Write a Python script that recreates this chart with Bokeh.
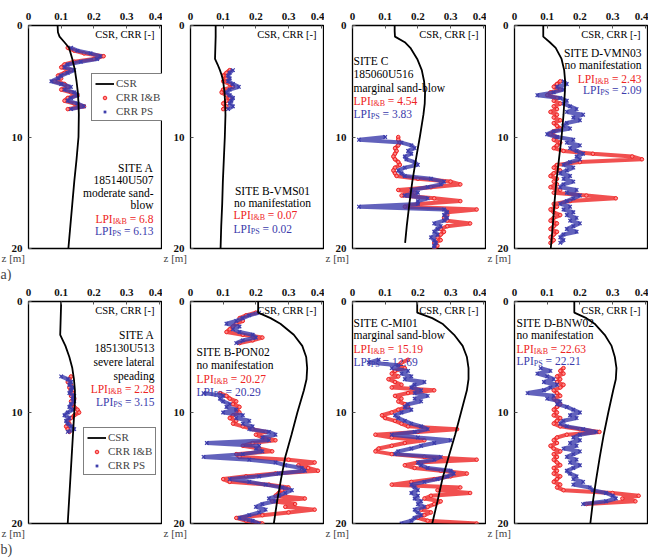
import numpy as np
from bokeh.plotting import figure
from bokeh.models import (Range1d, FixedTicker, CustomJSTickFormatter, Label,
                          Legend, LegendItem, Title)
from bokeh.layouts import column, row
from bokeh.embed import file_html
from bokeh.resources import INLINE

# ---------------- data ----------------
STEP = 0.25  # depth spacing of the CRR readings [m]

# row a)
a1_csr_z = [0, 0.6, 1.0, 1.5, 2, 3, 4, 5, 6, 7, 8, 10, 12, 14, 16, 18, 20]
a1_csr = [0.089, 0.09, 0.095, 0.11, 0.124, 0.134, 0.142, 0.147, 0.151, 0.153, 0.154, 0.153, 0.147, 0.140, 0.134, 0.128, 0.122]
a1_z0 = 2.0
a1_ib = [0.12, 0.14, 0.17, 0.23, 0.20, 0.14, 0.11, 0.10, 0.13, 0.11, 0.09, 0.10, 0.08, 0.11, 0.12, 0.10, 0.13, 0.15, 0.12, 0.11, 0.14, 0.17, 0.12]
a1_ps = [0.13, 0.15, 0.19, 0.22, 0.21, 0.16, 0.12, 0.11, 0.14, 0.12, 0.10, 0.09, 0.07, 0.10, 0.13, 0.11, 0.14, 0.15, 0.13, 0.12, 0.15, 0.17, 0.13]

b1_csr_z = [0, 1, 2, 3, 3.5, 4, 4.5, 5, 6, 7, 8, 10, 12, 14, 16, 18, 20]
b1_csr = [0.077, 0.077, 0.076, 0.075, 0.083, 0.09, 0.096, 0.1, 0.104, 0.106, 0.107, 0.105, 0.102, 0.099, 0.097, 0.094, 0.092]
b1_z0 = 4.0
b1_ib = [0.12, 0.11, 0.10, 0.11, 0.10, 0.12, 0.13, 0.10, 0.095, 0.11, 0.12, 0.11, 0.10, 0.11, 0.10]
b1_ps = [0.13, 0.12, 0.115, 0.12, 0.115, 0.13, 0.148, 0.12, 0.11, 0.12, 0.13, 0.125, 0.12, 0.13, 0.115]

c1_csr_z = [0, 0.5, 1, 1.5, 2, 3, 4, 5, 6, 7, 8, 10, 12, 14, 16, 18, 19.5]
c1_csr = [0.129, 0.129, 0.13, 0.16, 0.177, 0.198, 0.212, 0.219, 0.222, 0.221, 0.217, 0.206, 0.194, 0.183, 0.174, 0.166, 0.161]
c1_z0 = 10.0
c1_ib = [0.14, 0.14, 0.145, 0.14, 0.13, 0.135, 0.13, 0.125, 0.13, 0.14, 0.145, 0.13, 0.125, 0.13, 0.135, 0.2,
         0.30, 0.33, 0.24, 0.14, 0.19, 0.15, 0.25, 0.33, 0.2, 0.16, 0.38, 0.29, 0.29, 0.28, 0.29, 0.36,
         0.29, 0.27, 0.28, 0.27, 0.26, 0.27, 0.25, 0.26, 0.25]
c1_ps = [0.10, 0.02, 0.15, 0.18, 0.19, 0.17, 0.18, 0.16, 0.165, 0.19, 0.20, 0.16, 0.14, 0.15, 0.16, 0.24,
         0.28, 0.27, 0.23, 0.18, 0.2, 0.16, 0.23, 0.20, 0.2, 0.02, 0.28, 0.29, 0.28, 0.29, 0.28, 0.25,
         0.27, 0.26, 0.25, 0.26, 0.24, 0.25, 0.255, 0.25, 0.25]

d1_csr_z = [0, 1, 1.5, 2, 3, 4, 5, 6, 8, 10, 12, 14, 16, 18, 20]
d1_csr = [0.088, 0.088, 0.108, 0.126, 0.144, 0.152, 0.155, 0.154, 0.15, 0.144, 0.136, 0.128, 0.122, 0.117, 0.111]
d1_z0 = 5.0
d1_ib = [0.14, 0.13, 0.12, 0.14, 0.11, 0.10, 0.13, 0.12, 0.14, 0.12, 0.13, 0.11, 0.13, 0.12, 0.14, 0.12,
         0.13, 0.14, 0.12, 0.11, 0.13, 0.12, 0.14, 0.13, 0.12, 0.15, 0.24, 0.36, 0.39, 0.20, 0.13, 0.12,
         0.14, 0.12, 0.11, 0.13, 0.12, 0.13, 0.11, 0.14, 0.12, 0.22, 0.31, 0.17, 0.12, 0.13, 0.11, 0.12,
         0.14, 0.12, 0.11, 0.13, 0.12, 0.11, 0.13, 0.12, 0.11, 0.12, 0.11]
d1_ps = [0.15, 0.16, 0.13, 0.15, 0.12, 0.07, 0.14, 0.16, 0.15, 0.17, 0.19, 0.16, 0.21, 0.18, 0.20, 0.16,
         0.15, 0.17, 0.12, 0.10, 0.13, 0.18, 0.16, 0.20, 0.17, 0.19, 0.21, 0.19, 0.20, 0.17, 0.15, 0.18,
         0.16, 0.14, 0.17, 0.15, 0.18, 0.15, 0.14, 0.19, 0.16, 0.20, 0.18, 0.16, 0.14, 0.17, 0.15, 0.18,
         0.16, 0.19, 0.17, 0.20, 0.18, 0.16, 0.19, 0.15, 0.14, 0.15, 0.14]

# row b)
a2_csr_z = [0, 1, 2, 3, 3.5, 4, 5, 6, 7, 8, 9, 10, 12, 14, 16, 18, 20]
a2_csr = [0.10, 0.099, 0.098, 0.097, 0.105, 0.113, 0.125, 0.134, 0.139, 0.142, 0.142, 0.14, 0.136, 0.132, 0.128, 0.124, 0.12]
a2_z0 = 6.75
a2_ib = [0.13, 0.125, 0.12, 0.13, 0.125, 0.13, 0.135, 0.13, 0.14, 0.13, 0.135, 0.14, 0.15, 0.155, 0.14, 0.13, 0.12, 0.125, 0.115, 0.12, 0.125]
a2_ps = [0.10, 0.12, 0.13, 0.125, 0.135, 0.13, 0.125, 0.14, 0.135, 0.14, 0.13, 0.125, 0.135, 0.12, 0.11, 0.125, 0.115, 0.12, 0.13, 0.14, 0.12]

b2_csr_z = [0, 1, 1.5, 2, 3, 4, 5, 6, 7, 8, 10, 12, 14, 16, 18, 20]
b2_csr = [0.207, 0.207, 0.245, 0.275, 0.316, 0.342, 0.354, 0.357, 0.355, 0.347, 0.327, 0.309, 0.29, 0.277, 0.265, 0.255]
b2_z0 = 1.0
b2_ib = [0.2, 0.17, 0.15, 0.16, 0.14, 0.13, 0.12, 0.11, 0.16, 0.22, 0.19, 0.15,
         None, None, None, None, None, None, None, None, None, None, None, None, None, None, None, None, None,
         0.09, 0.11, 0.12, 0.14, 0.13, 0.15, 0.14, 0.15, 0.13, 0.12, 0.14, 0.13, 0.16, 0.19, 0.23, 0.20,
         0.22, 0.26, 0.19, 0.16, 0.21, 0.25, 0.14, 0.15, 0.30, 0.38, 0.33, 0.36, 0.39, 0.26, 0.17, 0.10,
         0.12, 0.24, 0.30, 0.28, 0.27, 0.26, 0.35, 0.25, 0.32, 0.29, 0.38, 0.30, 0.22, 0.14, 0.17, 0.22]
b2_ps = [0.21, 0.18, 0.16, 0.14, 0.11, 0.15, 0.13, 0.15, 0.19, 0.2, 0.16, 0.14,
         None, None, None, None, None, None, None, None, None, None, None, None, None, None, None, None, None,
         0.04, 0.10, 0.09, 0.10, 0.12, 0.11, 0.14, 0.10, 0.16, 0.14, 0.18, 0.16, 0.19, 0.18, 0.24, 0.26,
         0.22, 0.24, 0.05, 0.21, 0.20, 0.22, 0.16, 0.04, 0.18, 0.26, 0.29, 0.34, 0.35, 0.27, 0.21, 0.12,
         0.18, 0.23, 0.28, 0.31, 0.29, 0.27, 0.24, 0.26, 0.22, 0.20, 0.23, 0.21, 0.18, 0.15, 0.19, 0.21]

c2_csr_z = [0, 1, 1.5, 2, 3, 4, 5, 6, 7, 8, 10, 12, 14, 16, 18, 20]
c2_csr = [0.198, 0.198, 0.244, 0.275, 0.311, 0.337, 0.35, 0.355, 0.355, 0.35, 0.332, 0.314, 0.294, 0.275, 0.26, 0.244]
c2_z0 = 5.25
c2_ib = [0.17, 0.15, 0.14, 0.16, 0.13, 0.12, 0.14, 0.11, 0.13, 0.15, 0.12, 0.25, 0.17, 0.13, 0.15, 0.14,
         0.16, 0.17, 0.14, 0.12, 0.09, 0.10, 0.13, 0.15, 0.17, 0.32, 0.20, 0.07, 0.12, 0.22, 0.16, 0.12,
         0.08, 0.07, 0.12, 0.22, 0.38, 0.20, 0.16, 0.19, 0.27, 0.35, 0.30, 0.25, 0.18, 0.12, 0.33, 0.26,
         0.36, 0.24, 0.22, 0.27, 0.25, 0.23, 0.21, 0.24, 0.22, 0.20, 0.23, 0.38]
c2_ps = [0.08, 0.05, 0.14, 0.12, 0.17, 0.15, 0.18, 0.16, 0.22, 0.19, 0.18, 0.21, 0.19, 0.23, 0.19, 0.21,
         0.17, 0.16, 0.18, 0.15, 0.13, 0.14, 0.16, 0.18, 0.21, 0.23, 0.19, 0.12, 0.20, 0.30, 0.25, 0.21,
         0.18, 0.14, 0.13, 0.27, 0.25, 0.20, 0.21, 0.23, 0.30, 0.31, 0.29, 0.26, 0.22, 0.18, 0.19, 0.20,
         0.18, 0.20, 0.19, 0.21, 0.20, 0.22, 0.19, 0.20, 0.21, 0.19, 0.18, 0.15]

d2_csr_z = [0, 1, 1.5, 2, 3, 4, 5, 6, 7, 8, 10, 12, 14, 16, 18, 20]
d2_csr = [0.183, 0.183, 0.22, 0.245, 0.276, 0.297, 0.307, 0.312, 0.31, 0.302, 0.287, 0.273, 0.261, 0.25, 0.24, 0.232]
d2_z0 = 6.0
d2_ib = [0.15, 0.14, 0.15, 0.13, 0.14, 0.13, 0.15, 0.14, 0.12, 0.13, 0.14, 0.12, 0.13, 0.14, 0.13, 0.12,
         0.13, 0.12, 0.14, 0.13, 0.12, 0.14, 0.20, 0.26, 0.16, 0.13, 0.12, 0.13, 0.11, 0.12, 0.14, 0.12,
         0.13, 0.12, 0.13, 0.14, 0.12, 0.13, 0.12, 0.14, 0.13, 0.12, 0.14, 0.13, 0.15, 0.30, 0.38, 0.33,
         0.37, 0.22]
d2_ps = [0.08, 0.11, 0.07, 0.10, 0.12, 0.09, 0.13, 0.11, 0.09, 0.04, 0.12, 0.10, 0.14, 0.13, 0.16, 0.18,
         0.20, 0.17, 0.19, 0.15, 0.14, 0.16, 0.21, 0.25, 0.20, 0.18, 0.20, 0.17, 0.19, 0.15, 0.20, 0.18,
         0.16, 0.19, 0.17, 0.20, 0.18, 0.16, 0.17, 0.19, 0.18, 0.21, 0.18, 0.23, 0.24, 0.28, 0.30, 0.31,
         0.28, 0.21]

x_ticks = [0, 0.1, 0.2, 0.3, 0.4]
z_ticks = [0, 10, 20]
lpi_ib = ["6.8", "0.07", "4.54", "2.43", "2.28", "20.27", "15.19", "22.63"]
lpi_ps = ["6.13", "0.02", "3.83", "2.09", "3.15", "20.29", "12.69", "22.21"]

# ---------------- style ----------------
XMAX = 0.41
FW = 134
FONT = "Liberation Serif"
FS = 11.5
SUB = 8
RED = "#ee2424"
BLUE = "#3b3bab"

WID = {' ': 250, '=': 564, '.': 250, 'L': 611, 'P': 556, 'I': 333, '&': 778, 'B': 667, 'S': 556}


def tw(s, size):
    return sum(WID.get(c, 500) for c in s) * size / 1000.0


def add_text(p, fh, lx, ly, s, color="black", size=FS, align="left", dx=0, dy=0):
    p.add_layout(Label(x=lx / FW * XMAX, y=ly / fh * 20, text=s, x_offset=dx, y_offset=dy,
                       text_align=align, text_baseline="middle", text_font=FONT,
                       text_font_size=f"{size}px", text_color=color))


def add_lpi(p, fh, lx, ly, sub, val, color, align):
    rest = "= " + val
    w_lpi, w_sub, w_sp, w_rest = tw("LPI", FS), tw(sub, SUB), tw(" ", FS), tw(rest, FS)
    total = w_lpi + w_sub + w_sp + w_rest
    base = 0 if align == "left" else -total
    add_text(p, fh, lx, ly, "LPI", color, FS, "left", base)
    add_text(p, fh, lx, ly, sub, color, SUB, "left", base + w_lpi, -3)
    add_text(p, fh, lx, ly, rest, color, FS, "left", base + w_lpi + w_sub + w_sp)


def panel(fh, btop, bbot, csr_z, csr_v, z0, ib, ps, tag):
    p = figure(frame_width=FW, frame_height=fh, min_border_left=28, min_border_right=0,
               min_border_top=btop, min_border_bottom=bbot,
               x_range=Range1d(0, XMAX), y_range=Range1d(20, 0),
               x_axis_location="above", toolbar_location=None, output_backend="svg")
    p.grid.visible = False
    p.outline_line_color = "black"
    p.outline_line_width = 1.3
    p.background_fill_color = "white"
    p.border_fill_color = "white"
    for ax in (p.xaxis[0], p.yaxis[0]):
        ax.axis_line_color = None
        ax.major_tick_in = 3
        ax.major_tick_out = 0
        ax.minor_tick_line_color = None
        ax.major_tick_line_color = "#555555"
        ax.major_label_text_font = FONT
        ax.major_label_text_font_style = "bold"
        ax.major_label_text_font_size = "11px"
        ax.major_label_text_color = "#111111"
        ax.major_label_standoff = 6
    p.xaxis[0].ticker = FixedTicker(ticks=x_ticks)
    p.xaxis[0].formatter = CustomJSTickFormatter(code="return String(Math.round(tick*10)/10);")
    p.yaxis[0].ticker = FixedTicker(ticks=z_ticks)

    ibv = [np.nan if v is None else v for v in ib]
    psv = [np.nan if v is None else v for v in ps]
    zi = [z0 + STEP * i for i in range(len(ibv))]
    zp = [z0 + STEP * i for i in range(len(psv))]
    p.line(ibv, zi, line_color=RED, line_width=4, line_alpha=0.8)
    r_ib = p.scatter(ibv, zi, marker="circle", size=3.5, line_color=RED, fill_color="#ff8a8a", line_width=1)
    p.line(psv, zp, line_color=BLUE, line_width=4, line_alpha=0.8)
    r_ps = p.scatter(psv, zp, marker="x", size=5, line_color=BLUE, line_width=1.2)
    r_csr = p.line(csr_v, csr_z, line_color="black", line_width=1.8)
    add_text(p, fh, 126, 9, "CSR, CRR [-]", "black", 10.5, "right")

    p.add_layout(Title(text="z [m]", align="left", offset=-27, standoff=2,
                       text_font=FONT, text_font_size="11px", text_font_style="normal"), "below")
    if tag:
        p.add_layout(Title(text=tag, align="left", offset=-28, standoff=0,
                           text_font=FONT, text_font_size="14px", text_font_style="normal"), "below")
    return p, r_csr, r_ib, r_ps


def legend(p, r_csr, r_ib, r_ps, loc):
    lg = Legend(items=[LegendItem(label="CSR", renderers=[r_csr]),
                       LegendItem(label="CRR I&B", renderers=[r_ib]),
                       LegendItem(label="CRR PS", renderers=[r_ps])],
                location=loc, label_text_font=FONT, label_text_font_size="11px",
                glyph_width=19, glyph_height=9, label_height=9, spacing=2, padding=3,
                margin=0, border_line_color="black", border_line_width=1.2,
                label_standoff=2, background_fill_alpha=1.0)
    p.add_layout(lg)


FH1, FH2 = 223, 222
T1, B1 = 25, 32
T2, B2 = 20, 38

# ---- row a ----
pa1, c, i, s = panel(FH1, T1, B1, a1_csr_z, a1_csr, a1_z0, a1_ib, a1_ps, "a)")
legend(pa1, c, i, s, (63, 127))
for ly, t in [(142, "SITE A"), (154, "185140U507"), (167, "moderate sand-"), (179, "blow")]:
    add_text(pa1, FH1, 125, ly, t, align="right")
add_lpi(pa1, FH1, 125, 193, "I&B", lpi_ib[0], RED, "right")
add_lpi(pa1, FH1, 125, 205, "PS", lpi_ps[0], BLUE, "right")

pb1, c, i, s = panel(FH1, T1, B1, b1_csr_z, b1_csr, b1_z0, b1_ib, b1_ps, None)
add_text(pb1, FH1, 82, 165, "SITE B-VMS01", align="center")
add_text(pb1, FH1, 82, 177, "no manifestation", align="center")
add_lpi(pb1, FH1, 43, 189, "I&B", lpi_ib[1], RED, "left")
add_lpi(pb1, FH1, 43, 203, "PS", lpi_ps[1], BLUE, "left")

pc1, c, i, s = panel(FH1, T1, B1, c1_csr_z, c1_csr, c1_z0, c1_ib, c1_ps, None)
for ly, t in [(35, "SITE C"), (48, "185060U516"), (62, "marginal  sand-blow")]:
    add_text(pc1, FH1, 1, ly, t)
add_lpi(pc1, FH1, 1, 75, "I&B", lpi_ib[2], RED, "left")
add_lpi(pc1, FH1, 1, 88, "PS", lpi_ps[2], BLUE, "left")

pd1, c, i, s = panel(FH1, T1, B1, d1_csr_z, d1_csr, d1_z0, d1_ib, d1_ps, None)
add_text(pd1, FH1, 127, 27, "SITE D-VMN03", align="right")
add_text(pd1, FH1, 127, 39, "no manifestation", align="right")
add_lpi(pd1, FH1, 127, 53, "I&B", lpi_ib[3], RED, "right")
add_lpi(pd1, FH1, 127, 64, "PS", lpi_ps[3], BLUE, "right")

# ---- row b ----
pa2, c, i, s = panel(FH2, T2, B2, a2_csr_z, a2_csr, a2_z0, a2_ib, a2_ps, "b)")
legend(pa2, c, i, s, (55, 48))
for ly, t in [(33, "SITE A"), (46, "185130U513"), (60, "severe lateral"), (74, "speading")]:
    add_text(pa2, FH2, 126, ly, t, align="right")
add_lpi(pa2, FH2, 126, 87, "I&B", lpi_ib[4], RED, "right")
add_lpi(pa2, FH2, 126, 100, "PS", lpi_ps[4], BLUE, "right")

pb2, c, i, s = panel(FH2, T2, B2, b2_csr_z, b2_csr, b2_z0, b2_ib, b2_ps, None)
add_text(pb2, FH2, 6, 50, "SITE B-PON02")
add_text(pb2, FH2, 6, 63, "no manifestation")
add_lpi(pb2, FH2, 6, 77, "I&B", lpi_ib[5], RED, "left")
add_lpi(pb2, FH2, 6, 90, "PS", lpi_ps[5], BLUE, "left")

pc2, c, i, s = panel(FH2, T2, B2, c2_csr_z, c2_csr, c2_z0, c2_ib, c2_ps, None)
add_text(pc2, FH2, 1, 21, "SITE C-MI01")
add_text(pc2, FH2, 1, 33, "marginal  sand-blow")
add_lpi(pc2, FH2, 1, 47, "I&B", lpi_ib[6], RED, "left")
add_lpi(pc2, FH2, 1, 60, "PS", lpi_ps[6], BLUE, "left")

pd2, c, i, s = panel(FH2, T2, B2, d2_csr_z, d2_csr, d2_z0, d2_ib, d2_ps, None)
add_text(pd2, FH2, 2, 21, "SITE D-BNW02")
add_text(pd2, FH2, 2, 33, "no manifestation")
add_lpi(pd2, FH2, 2, 47, "I&B", lpi_ib[7], RED, "left")
add_lpi(pd2, FH2, 2, 59, "PS", lpi_ps[7], BLUE, "left")

layout = column(row(pa1, pb1, pc1, pd1, spacing=0), row(pa2, pb2, pc2, pd2, spacing=0), spacing=0)
open("out.html", "w").write(file_html(layout, INLINE))
